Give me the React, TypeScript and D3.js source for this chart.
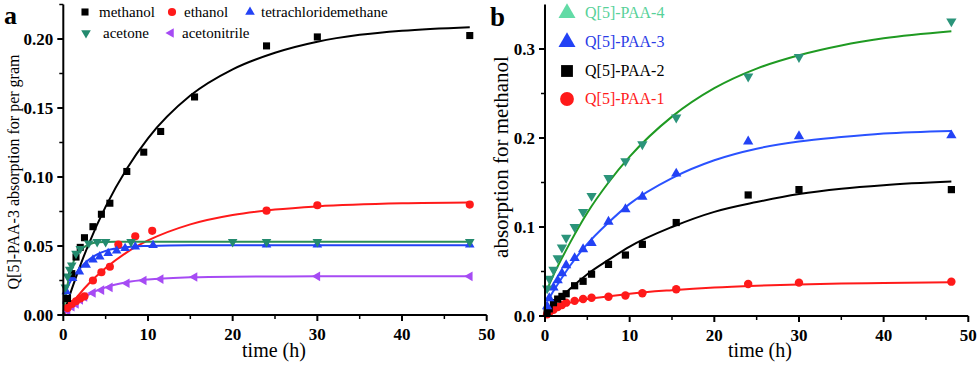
import React from 'react';
import * as d3 from 'd3';

const FONT = '"Liberation Serif", "Times New Roman", Times, serif';

// ---------- Panel a data ----------
const methanolT = [0.5, 1, 1.5, 2, 2.5, 3.5, 4.5, 5.5, 7.5, 9.5, 11.5, 15.5, 24, 30, 48];
const methanolV = [0.012, 0.030, 0.042, 0.049, 0.056, 0.064, 0.073, 0.081, 0.104, 0.118, 0.133, 0.158, 0.195, 0.2015, 0.2025];
const methanolFitT = [0, 0.5, 1, 2, 3, 5, 7.5, 10, 15, 20, 25, 30, 35, 40, 48];
const methanolFitV = [0, 0.0096, 0.0187, 0.0358, 0.0514, 0.0785, 0.106, 0.128, 0.159, 0.178, 0.19, 0.198, 0.203, 0.206, 0.2086];

const ethanolT = [0.5, 1, 1.5, 2, 2.5, 3.5, 4.5, 5.5, 6.5, 8.5, 10.5, 24, 30, 48];
const ethanolV = [0.005, 0.008, 0.01, 0.012, 0.0135, 0.025, 0.031, 0.035, 0.051, 0.057, 0.061, 0.0756, 0.0795, 0.08];
const ethanolFitT = [0, 1, 2, 3, 5, 7.5, 10, 15, 20, 25, 30, 40, 48];
const ethanolFitV = [0, 0.0084, 0.0159, 0.0226, 0.034, 0.0454, 0.054, 0.0657, 0.0725, 0.0764, 0.0787, 0.0809, 0.0815];

const tetraT = [0.35, 1.1, 1.9, 2.7, 3.5, 4.3, 5.3, 6.3, 7.3, 8.5, 10.6, 24, 30, 48];
const tetraV = [0.017, 0.0266, 0.0314, 0.0362, 0.04, 0.0423, 0.0447, 0.0466, 0.0483, 0.0495, 0.0505, 0.051, 0.051, 0.051];
const tetraFitT = [0, 0.25, 0.5, 1, 2, 3, 4, 5, 6, 8, 10, 15, 48];
const tetraFitV = [0.008, 0.015, 0.02, 0.026, 0.034, 0.04, 0.044, 0.0465, 0.048, 0.0495, 0.05, 0.0505, 0.0505];

const acetoneT = [0.25, 0.5, 0.75, 1, 1.5, 2, 3, 4, 5, 8, 20, 24, 30, 48];
const acetoneV = [0.02, 0.028, 0.033, 0.036, 0.0445, 0.048, 0.052, 0.053, 0.053, 0.053, 0.053, 0.053, 0.053, 0.053];
const acetoneFitT = [0, 0.25, 0.5, 1, 1.5, 2, 3, 4, 6, 48];
const acetoneFitV = [0, 0.0126, 0.022, 0.035, 0.0425, 0.047, 0.051, 0.0527, 0.053, 0.053];

const acetonitrileT = [0.5, 1, 1.5, 2, 2.5, 3.5, 4.5, 5.5, 7.5, 9.5, 11.5, 15.5, 30, 48];
const acetonitrileV = [0.003, 0.006, 0.008, 0.011, 0.013, 0.016, 0.018, 0.02, 0.023, 0.025, 0.026, 0.0275, 0.028, 0.028];
const acetonitrileFitT = [0, 0.5, 1, 2, 3, 5, 7.5, 10, 15, 20, 30, 48];
const acetonitrileFitV = [0, 0.0033, 0.0062, 0.011, 0.0148, 0.02, 0.0237, 0.0257, 0.0273, 0.0278, 0.028, 0.028];

// ---------- Panel b data ----------
const timesB = [0.25, 0.5, 1, 1.5, 2, 2.5, 3.5, 4.5, 5.5, 7.5, 9.5, 11.5, 15.5, 24, 30, 48];
const paa4V = [0.031, 0.042, 0.052, 0.065, 0.077, 0.088, 0.1, 0.117, 0.135, 0.155, 0.174, 0.193, 0.223, 0.269, 0.291, 0.331];
const paa3V = [0.011, 0.02, 0.032, 0.04, 0.048, 0.057, 0.065, 0.075, 0.082, 0.106, 0.12, 0.134, 0.16, 0.196, 0.202, 0.203];
const paa2V = [0.004, 0.008, 0.015, 0.019, 0.022, 0.025, 0.034, 0.039, 0.047, 0.058, 0.0685, 0.0805, 0.105, 0.136, 0.142, 0.142];
const paa1V = [0.002, 0.004, 0.007, 0.01, 0.0124, 0.015, 0.017, 0.019, 0.0206, 0.0217, 0.023, 0.0255, 0.03, 0.036, 0.0375, 0.0386];

const fitTB = [0.3, 1, 2, 3, 5, 7.5, 10, 15, 20, 25, 30, 35, 40, 48];
const paa4Fit = [0.031, 0.046, 0.065, 0.083, 0.116, 0.15, 0.179, 0.224, 0.256, 0.278, 0.293, 0.304, 0.312, 0.32];
const paa3Fit = [0.017, 0.028, 0.043, 0.057, 0.081, 0.105, 0.126, 0.155, 0.175, 0.188, 0.196, 0.201, 0.205, 0.208];
const paa2Fit = [0.006, 0.013, 0.022, 0.031, 0.047, 0.063, 0.078, 0.1, 0.117, 0.128, 0.137, 0.143, 0.147, 0.151];
const paa1Fit = [0.003, 0.008, 0.012, 0.015, 0.019, 0.022, 0.025, 0.029, 0.032, 0.034, 0.0355, 0.0365, 0.037, 0.038];

// ---------- ticks ----------
const xTickVals = [0, 10, 20, 30, 40, 50];
const xMinorVals = [5, 15, 25, 35, 45];
const yTicksA = [0, 0.05, 0.1, 0.15, 0.2];
const yMinorA = [0.025, 0.075, 0.125, 0.175, 0.225];
const yTicksB = [0, 0.1, 0.2, 0.3];
const yMinorB = [0.05, 0.15, 0.25];

const legendA = ['methanol', 'ethanol', 'tetrachloridemethane', 'acetone', 'acetonitrile'];
const legendB = ['Q[5]-PAA-4', 'Q[5]-PAA-3', 'Q[5]-PAA-2', 'Q[5]-PAA-1'];

type Series = {
  t: number[]; v: number[]; fitT: number[]; fitV: number[];
  symbol: d3.SymbolType; rotate: number; size: number; fill: string; line: string;
};

const RED = '#ff1a1a';
const BLUE = '#2342f5';

const seriesA: Series[] = [
  { t: acetonitrileT, v: acetonitrileV, fitT: acetonitrileFitT, fitV: acetonitrileFitV, symbol: d3.symbolTriangle, rotate: -90, size: 40, fill: '#a64bf4', line: '#a64bf4' },
  { t: ethanolT, v: ethanolV, fitT: ethanolFitT, fitV: ethanolFitV, symbol: d3.symbolCircle, rotate: 0, size: 52, fill: RED, line: RED },
  { t: tetraT, v: tetraV, fitT: tetraFitT, fitV: tetraFitV, symbol: d3.symbolTriangle, rotate: 0, size: 40, fill: BLUE, line: BLUE },
  { t: methanolT, v: methanolV, fitT: methanolFitT, fitV: methanolFitV, symbol: d3.symbolSquare, rotate: 0, size: 50, fill: '#000', line: '#000' },
  { t: acetoneT, v: acetoneV, fitT: acetoneFitT, fitV: acetoneFitV, symbol: d3.symbolTriangle, rotate: 180, size: 40, fill: '#238a6e', line: '#2b8f55' },
];

const seriesB: Series[] = [
  { t: timesB, v: paa1V, fitT: fitTB, fitV: paa1Fit, symbol: d3.symbolCircle, rotate: 0, size: 56, fill: RED, line: RED },
  { t: timesB, v: paa2V, fitT: fitTB, fitV: paa2Fit, symbol: d3.symbolSquare, rotate: 0, size: 52, fill: '#000', line: '#000' },
  { t: timesB, v: paa3V, fitT: fitTB, fitV: paa3Fit, symbol: d3.symbolTriangle, rotate: 0, size: 46, fill: BLUE, line: '#2a52ff' },
  { t: timesB, v: paa4V, fitT: fitTB, fitV: paa4Fit, symbol: d3.symbolTriangle, rotate: 180, size: 46, fill: '#2b947a', line: '#1f9a22' },
];

type PanelProps = {
  x: d3.ScaleLinear<number, number>;
  y: d3.ScaleLinear<number, number>;
  series: Series[];
  yTicks: number[];
  yMinor: number[];
  fmt: (n: number) => string;
};

function Panel({ x, y, series, yTicks, yMinor, fmt }: PanelProps) {
  const [x0, x1] = x.range();
  const [y0, y1] = y.range();
  const line = d3.line<[number, number]>()
    .x(d => x(d[0])).y(d => y(d[1])).curve(d3.curveMonotoneX);
  return (
    <g>
      {series.map((s, i) => (
        <path key={'l' + i} d={line(s.fitT.map((t, j) => [t, s.fitV[j]] as [number, number])) || ''}
          fill="none" stroke={s.line} strokeWidth={2} />
      ))}
      {series.map((s, i) => (
        <g key={'m' + i}>
          {s.t.map((t, j) => (
            <path key={j} d={d3.symbol().type(s.symbol).size(s.size)() || ''}
              transform={`translate(${x(t)},${y(s.v[j])}) rotate(${s.rotate})`} fill={s.fill} />
          ))}
        </g>
      ))}
      <line x1={x0} x2={x0} y1={y0} y2={y1} stroke="#000" strokeWidth={2} />
      <line x1={x0} x2={x1} y1={y0} y2={y0} stroke="#000" strokeWidth={2} />
      {xTickVals.map(v => (
        <g key={'xt' + v}>
          <line x1={x(v)} x2={x(v)} y1={y0} y2={y0 + 6} stroke="#000" strokeWidth={2} />
          <text x={x(v)} y={y0 + 25} textAnchor="middle" fontFamily={FONT} fontWeight="bold" fontSize={17}>{v}</text>
        </g>
      ))}
      {xMinorVals.map(v => (
        <line key={'xm' + v} x1={x(v)} x2={x(v)} y1={y0} y2={y0 + 4} stroke="#000" strokeWidth={1.5} />
      ))}
      {yTicks.map(v => (
        <g key={'yt' + v}>
          <line x1={x0 - 6} x2={x0} y1={y(v)} y2={y(v)} stroke="#000" strokeWidth={2} />
          <text x={x0 - 10} y={y(v)} dy="0.35em" textAnchor="end" fontFamily={FONT} fontWeight="bold" fontSize={17}>{fmt(v)}</text>
        </g>
      ))}
      {yMinor.map(v => (
        <line key={'ym' + v} x1={x0 - 4} x2={x0} y1={y(v)} y2={y(v)} stroke="#000" strokeWidth={1.5} />
      ))}
    </g>
  );
}

function Marker({ symbol, rotate, size, fill, cx, cy }: { symbol: d3.SymbolType; rotate: number; size: number; fill: string; cx: number; cy: number }) {
  return <path d={d3.symbol().type(symbol).size(size)() || ''} transform={`translate(${cx},${cy}) rotate(${rotate})`} fill={fill} />;
}

export default function App() {
  const xA = d3.scaleLinear().domain([0, 50]).range([63.3, 486.7]);
  const yA = d3.scaleLinear().domain([0, 0.225]).range([315, 4.5]);
  const xB = d3.scaleLinear().domain([0, 50]).range([545, 968.3]);
  const yB = d3.scaleLinear().domain([0, 0.35]).range([316, 4.5]);
  const fA = d3.format('.2f');
  const fB = d3.format('.1f');

  const legA = [
    { s: seriesA[3], x: 85, y: 12 },
    { s: seriesA[1], x: 172, y: 12 },
    { s: seriesA[2], x: 250, y: 12 },
    { s: seriesA[4], x: 86, y: 33 },
    { s: seriesA[0], x: 171, y: 33 },
  ];
  const legATextX = [99, 184, 261, 103, 182];

  const legB = [
    { sym: d3.symbolTriangle, size: 125, fill: '#62dba6', text: '#57d199', y: 13 },
    { sym: d3.symbolTriangle, size: 125, fill: BLUE, text: '#2a3be6', y: 42 },
    { sym: d3.symbolSquare, size: 140, fill: '#000', text: '#000', y: 71 },
    { sym: d3.symbolCircle, size: 150, fill: RED, text: RED, y: 99 },
  ];

  return (
    <svg width={980} height={368} style={{ position: 'absolute', left: 0, top: 0, background: '#fff' }}>
      <rect x={0} y={0} width={980} height={368} fill="#fff" />
      {/* Panel a */}
      <Panel x={xA} y={yA} series={seriesA} yTicks={yTicksA} yMinor={yMinorA} fmt={fA} />
      <text x={4} y={24} fontFamily={FONT} fontWeight="bold" fontSize={26}>a</text>
      <text transform={`translate(13,172) rotate(-90)`} textAnchor="middle" dominantBaseline="central" fontFamily={FONT} fontSize={16}>Q[5]-PAA-3 absorption for per gram</text>
      <text x={274} y={357} textAnchor="middle" fontFamily={FONT} fontSize={20}>time (h)</text>
      {legA.map((l, i) => (
        <g key={'la' + i}>
          <Marker symbol={l.s.symbol} rotate={l.s.rotate} size={l.s.size} fill={l.s.fill} cx={l.x} cy={l.y} />
          <text x={legATextX[i]} y={l.y} dy="0.32em" fontFamily={FONT} fontSize={15}>{legendA[i]}</text>
        </g>
      ))}

      {/* Panel b */}
      <Panel x={xB} y={yB} series={seriesB} yTicks={yTicksB} yMinor={yMinorB} fmt={fB} />
      <text x={490} y={26} fontFamily={FONT} fontWeight="bold" fontSize={27}>b</text>
      <text transform={`translate(501,157) rotate(-90)`} textAnchor="middle" dominantBaseline="central" fontFamily={FONT} fontSize={21}>absorption for methanol</text>
      <text x={760} y={357} textAnchor="middle" fontFamily={FONT} fontSize={20}>time (h)</text>
      {legB.map((l, i) => (
        <g key={'lb' + i}>
          <Marker symbol={l.sym} rotate={0} size={l.size} fill={l.fill} cx={567} cy={l.y} />
          <text x={585} y={l.y} dy="0.32em" fontFamily={FONT} fontSize={16} fill={l.text}>{legendB[i]}</text>
        </g>
      ))}
    </svg>
  );
}
